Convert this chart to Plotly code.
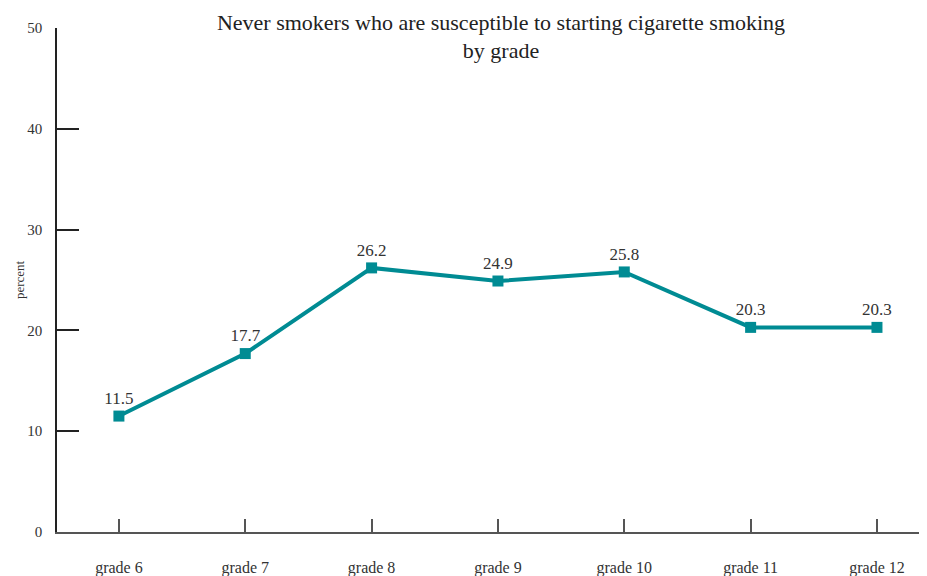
import plotly.graph_objects as go

grades = ["grade 6", "grade 7", "grade 8", "grade 9", "grade 10", "grade 11", "grade 12"]
percent = [11.5, 17.7, 26.2, 24.9, 25.8, 20.3, 20.3]
labels = ["11.5", "17.7", "26.2", "24.9", "25.8", "20.3", "20.3"]
y_ticks = [0, 10, 20, 30, 40, 50]

teal = "#008b93"
font_family = "Liberation Serif, DejaVu Serif, serif"

fig = go.Figure()
fig.add_trace(go.Scatter(
    x=list(range(len(grades))),
    y=percent,
    mode="lines+markers+text",
    line=dict(color=teal, width=4),
    marker=dict(symbol="square", size=11, color=teal),
    text=labels,
    textposition="top center",
    textfont=dict(family=font_family, size=17, color="#333333"),
    cliponaxis=False,
    showlegend=False,
    hoverinfo="skip",
))

# the page body adds an 8px offset; figure geometry compensates for it
fig.update_layout(
    width=919,
    height=568,
    margin=dict(l=49, r=0, t=20, b=44),
    paper_bgcolor="white",
    plot_bgcolor="white",
    font=dict(family=font_family, size=15, color="#333333"),
    title=dict(
        text="Never smokers who are susceptible to starting cigarette smoking<br>by grade",
        x=0.5365, xanchor="center", xref="container",
        y=0.962, yanchor="top", yref="container",
        font=dict(family=font_family, size=22, color="#222222"),
    ),
    xaxis=dict(
        tickmode="array",
        tickvals=list(range(len(grades))),
        ticktext=grades,
        range=[-0.49, 6.396],
        showgrid=False,
        zeroline=False,
        showline=True,
        linecolor="#555555",
        linewidth=1.5,
        ticks="inside",
        ticklen=13,
        tickwidth=1.5,
        tickcolor="#555555",
        ticklabelstandoff=20,
        automargin=False,
        tickfont=dict(family=font_family, size=16, color="#333333"),
    ),
    yaxis=dict(
        range=[0, 50],
        tickmode="array",
        tickvals=y_ticks,
        showgrid=False,
        zeroline=False,
        showline=True,
        linecolor="#222222",
        linewidth=1.5,
        ticks="inside",
        ticklen=22,
        tickwidth=1.5,
        tickcolor="#222222",
        ticklabelstandoff=10,
        automargin=False,
        tickfont=dict(family=font_family, size=15, color="#333333"),
        title=dict(text="percent", standoff=0,
                   font=dict(family=font_family, size=13, color="#333333")),
    ),
)

fig.write_html("out.html")
